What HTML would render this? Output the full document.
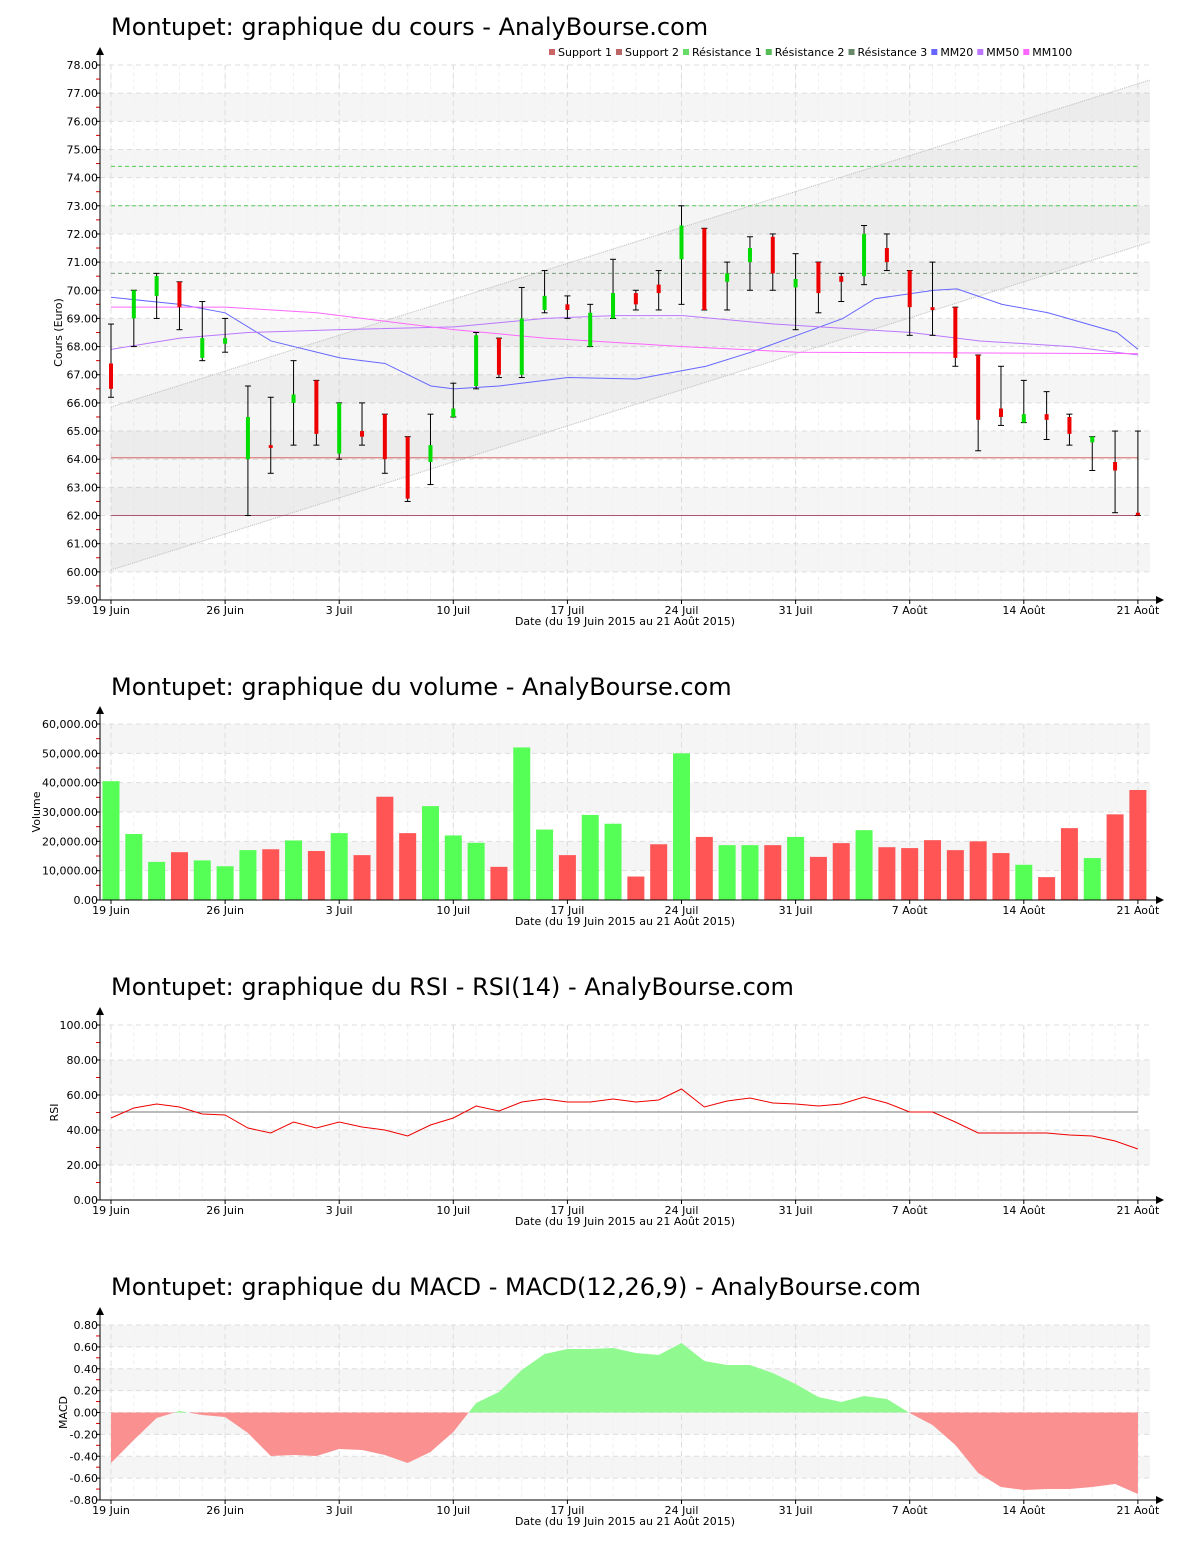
<!DOCTYPE html>
<html><head><meta charset="utf-8">
<style>
body{margin:0;background:#fff;width:1200px;height:1550px;overflow:hidden}
svg{display:block}
text{font-family:"DejaVu Sans","Liberation Sans",sans-serif}
</style></head><body>
<svg id="s" width="1200" height="1550" xmlns="http://www.w3.org/2000/svg"></svg>
<script>
const S=document.getElementById('s');let h='';
const X=i=>111+i*22.82;
const C=[[67.4,66.5,68.8,66.2],[69,70,70,68],[69.8,70.5,70.6,69],[70.3,69.4,70.3,68.6],[67.6,68.3,69.6,67.5],[68.1,68.3,69,67.8],[64,65.5,66.6,62],[64.5,64.4,66.2,63.5],[66,66.3,67.5,64.5],[66.8,64.9,66.8,64.5],[64.2,66,66,64],[65,64.8,66,64.5],[65.6,64,65.6,63.5],[64.8,62.6,64.8,62.5],[63.9,64.5,65.6,63.1],[65.5,65.8,66.7,65.5],[66.6,68.4,68.5,66.5],[68.3,67,68.3,66.9],[67,69,70.1,66.9],[69.3,69.8,70.7,69.2],[69.5,69.3,69.8,69],[68,69.2,69.5,68],[69,69.9,71.1,69],[69.9,69.5,70,69.3],[70.2,69.9,70.7,69.3],[71.1,72.3,73,69.5],[72.2,69.3,72.2,69.3],[70.3,70.6,71,69.3],[71,71.5,71.9,70],[71.9,70.6,72,70],[70.1,70.4,71.3,68.6],[71,69.9,71,69.2],[70.5,70.3,70.6,69.6],[70.5,72,72.3,70.2],[71.5,71,72,70.7],[70.7,69.4,70.7,68.4],[69.4,69.3,71,68.4],[69.4,67.6,69.4,67.3],[67.7,65.4,67.7,64.3],[65.8,65.5,67.3,65.2],[65.3,65.6,66.8,65.3],[65.6,65.4,66.4,64.7],[65.5,64.9,65.6,64.5],[64.6,64.8,64.8,63.6],[63.9,63.6,65,62.1],[62.1,62,65,62]];
const V=[40.5,22.5,13,16.3,13.5,11.5,17,17.3,20.3,16.7,22.8,15.3,35.2,22.8,32,22,19.5,11.3,52,24,15.3,29,26,8,19,50,21.5,18.7,18.7,18.7,21.5,14.7,19.4,23.8,18,17.7,20.4,17,20,16,12,7.8,24.5,14.3,29.2,37.5];
const VG=[1,1,1,0,1,1,1,0,1,0,1,0,0,0,1,1,1,0,1,1,0,1,1,0,0,1,0,1,1,0,1,0,0,1,0,0,0,0,0,0,1,0,0,1,0,0];
const dates=[[0,'19 Juin'],[5,'26 Juin'],[10,'3 Juil'],[15,'10 Juil'],[20,'17 Juil'],[25,'24 Juil'],[30,'31 Juil'],[35,'7 Août'],[40,'14 Août'],[45,'21 Août']];
function frame(title,ty,top,bot,min,max,step,fmt,bands,ylab,minor){
 const Y=v=>bot-(v-min)/(max-min)*(bot-top);
 h+=`<text x="111" y="${ty}" font-size="24" fill="#000">${title}</text>`;
 bands.forEach(b=>{h+=`<rect x="100" y="${Y(b[1])}" width="1050" height="${Y(b[0])-Y(b[1])}" fill="#f5f5f5"/>`});
 for(let i=0;i<46;i++){h+=`<line x1="${X(i)}" y1="${top}" x2="${X(i)}" y2="${bot}" stroke="#f0f0f0" stroke-dasharray="4,3"/>`}
 dates.forEach(d=>{h+=`<line x1="${X(d[0])}" y1="${top}" x2="${X(d[0])}" y2="${bot}" stroke="#ddd" stroke-dasharray="5,4"/>`});
 for(let v=min;v<=max+1e-9;v+=step){const y=Y(v);h+=`<line x1="100" y1="${y}" x2="1150" y2="${y}" stroke="#ddd" stroke-dasharray="5,4"/><line x1="96" y1="${y}" x2="100" y2="${y}" stroke="#000"/><text x="98" y="${y+4}" font-size="11" text-anchor="end">${fmt(v)}</text>`;
  if(minor&&v<max-1e-9){const ym=Y(v+step/2);h+=`<line x1="96" y1="${ym}" x2="100" y2="${ym}" stroke="#d00"/>`}}
 h+=`<text transform="translate(${ylab[1]},${(top+bot)/2}) rotate(-90)" font-size="11" text-anchor="middle">${ylab[0]}</text>`;
 return Y;
}
function axes(top,bot){
 h+=`<line x1="100" y1="${top-12}" x2="100" y2="${bot}" stroke="#000"/><polygon points="96,${top-10} 104,${top-10} 100,${top-18}"/>`;
 h+=`<line x1="100" y1="${bot}" x2="1158" y2="${bot}" stroke="#000"/><polygon points="1156,${bot-4} 1156,${bot+4} 1164,${bot}"/>`;
 dates.forEach(d=>{h+=`<line x1="${X(d[0])}" y1="${bot}" x2="${X(d[0])}" y2="${bot+4}" stroke="#000"/><text x="${X(d[0])}" y="${bot+14}" font-size="11" text-anchor="middle">${d[1]}</text>`});
 h+=`<text x="625" y="${bot+25}" font-size="11" text-anchor="middle">Date (du 19 Juin 2015 au 21 Août 2015)</text>`;
}
function path(pts,Y,col){return `<polyline fill="none" stroke="${col}" stroke-width="1" points="${pts.map(p=>p[0]+','+Y(p[1])).join(' ')}"/>`}
let Y=frame('Montupet: graphique du cours - AnalyBourse.com',35,65,600,59,78,1,v=>v.toFixed(2),[[76,77],[74,75],[72,73],[70,71],[68,69],[66,67],[64,65],[62,63],[60,61]],['Cours (Euro)',62],true);
h+=`<polygon points="111,407 1150,80 1150,242 111,570" fill="#000" fill-opacity="0.035"/>`;
h+=`<line x1="111" y1="407" x2="1150" y2="80" stroke="#bbb" stroke-dasharray="1,1"/><line x1="111" y1="570" x2="1150" y2="242" stroke="#bbb" stroke-dasharray="1,1"/>`;
[[74.4,'#5c5'],[73,'#5c5'],[70.6,'#797']].forEach(r=>{h+=`<line x1="111" y1="${Y(r[0])}" x2="1138" y2="${Y(r[0])}" stroke="${r[1]}" stroke-dasharray="4,3"/>`});
h+=`<line x1="111" y1="${Y(64.05)}" x2="1138" y2="${Y(64.05)}" stroke="#d66"/><line x1="111" y1="${Y(62)}" x2="1138" y2="${Y(62)}" stroke="#a57"/>`;
h+=path([[111,69.75],[180,69.5],[225,69.2],[271,68.2],[340,67.6],[385,67.4],[431,66.6],[454,66.5],[499,66.6],[568,66.9],[637,66.85],[706,67.3],[751,67.8],[797,68.4],[843,69],[875,69.7],[934,70],[957,70.05],[1002,69.5],[1048,69.2],[1117,68.5],[1138,67.9]],Y,'#66f');
h+=path([[111,67.9],[180,68.3],[248,68.5],[340,68.6],[454,68.7],[545,69],[614,69.1],[683,69.1],[774,68.8],[911,68.5],[980,68.2],[1071,68],[1138,67.7]],Y,'#b7f');
h+=path([[111,69.4],[225,69.4],[317,69.2],[385,68.9],[454,68.6],[545,68.3],[683,68],[797,67.8],[1138,67.75]],Y,'#f6f');
C.forEach((c,i)=>{const x=X(i);const g=c[1]>=c[0];h+=`<line x1="${x}" y1="${Y(c[2])}" x2="${x}" y2="${Y(c[3])}" stroke="#000"/><line x1="${x-3}" y1="${Y(c[2])}" x2="${x+3}" y2="${Y(c[2])}" stroke="#000"/><line x1="${x-3}" y1="${Y(c[3])}" x2="${x+3}" y2="${Y(c[3])}" stroke="#000"/>`;
 const t=Y(Math.max(c[0],c[1])),b=Y(Math.min(c[0],c[1]));h+=`<rect x="${x-2}" y="${t}" width="4" height="${Math.max(b-t,2)}" fill="${g?'#0d0':'#e00'}"/>`});
axes(65,600);
Y=frame('Montupet: graphique du volume - AnalyBourse.com',695,724,900,0,60000,10000,v=>v.toLocaleString('en-US',{minimumFractionDigits:2}),[[50000,60000],[30000,40000],[10000,20000]],['Volume',40],true);
V.forEach((v,i)=>{const y=Y(v*1000);h+=`<rect x="${X(i)-8.5}" y="${y}" width="17" height="${900-y}" fill="${VG[i]?'#5f5':'#f55'}"/>`});
axes(724,900);
Y=frame('Montupet: graphique du RSI - RSI(14) - AnalyBourse.com',995,1025,1200,0,100,20,v=>v.toFixed(2),[[60,80],[20,40]],['RSI',58],true);
h+=`<line x1="111" y1="1112" x2="1138" y2="1112" stroke="#777"/>`;
const R=[1118,1108,1104,1107,1114,1115,1128,1133,1122,1128,1122,1127,1130,1136,1125,1118,1106,1111,1102,1099,1102,1102,1099,1102,1100,1089,1107,1101,1098,1103,1104,1106,1104,1097,1103,1112,1112,1122,1133,1133,1133,1133,1135,1136,1141,1149];
h+=`<polyline fill="none" stroke="#e00" points="${R.map((y,i)=>X(i)+','+y).join(' ')}"/>`;
axes(1025,1200);
Y=frame('Montupet: graphique du MACD - MACD(12,26,9) - AnalyBourse.com',1295,1325,1500,-0.8,0.8,0.2,v=>(Math.abs(v)<1e-9?0:v).toFixed(2),[[0.6,0.8],[0.2,0.4],[-0.2,0],[-0.6,-0.4]],['MACD',67],true);
const MP=[1463,1440,1418,1411,1415,1417,1433,1456,1455,1456,1449,1450,1455,1463,1452,1432,1403,1392,1370,1354,1349,1349,1348,1353,1355,1343,1361,1365,1365,1373,1384,1397,1402,1396,1399,1413,1425,1445,1473,1487,1490,1489,1489,1487,1484,1494];
const poly='111,1412.5 '+MP.map((y,i)=>X(i)+','+y).join(' ')+' 1138,1412.5';
h+=`<defs><clipPath id="up"><rect x="100" y="1300" width="1060" height="112.5"/></clipPath><clipPath id="dn"><rect x="100" y="1412.5" width="1060" height="100"/></clipPath></defs>`;
h+=`<polygon clip-path="url(#up)" points="${poly}" fill="#90fa90"/><polygon clip-path="url(#dn)" points="${poly}" fill="#fa9090"/>`;
axes(1325,1500);
S.innerHTML=h;
// legend with measured widths
const leg=[['#c66','Support 1'],['#b66','Support 2'],['#6d6','Résistance 1'],['#5b5','Résistance 2'],['#686','Résistance 3'],['#66f','MM20'],['#b7f','MM50'],['#f6f','MM100']];
const NS='http://www.w3.org/2000/svg';
let lx=549;
leg.forEach(l=>{const r=document.createElementNS(NS,'rect');r.setAttribute('x',lx);r.setAttribute('y',49);r.setAttribute('width',6);r.setAttribute('height',6);r.setAttribute('fill',l[0]);S.appendChild(r);
 const t=document.createElementNS(NS,'text');t.setAttribute('x',lx+9);t.setAttribute('y',56);t.setAttribute('font-size',11);t.textContent=l[1];S.appendChild(t);
 let w=l[1].length*6.5;try{w=t.getComputedTextLength()||w}catch(e){}
 lx+=9+w+4;});
</script>
</body></html>
